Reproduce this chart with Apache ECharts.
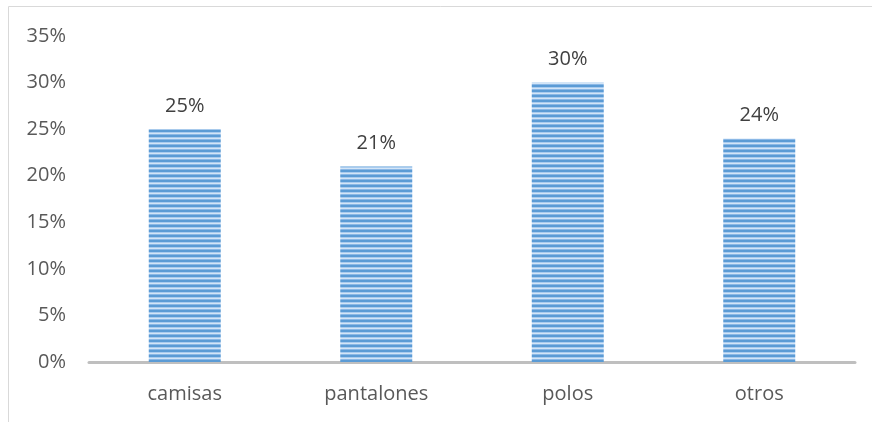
<!DOCTYPE html>
<html><head><meta charset="utf-8">
<script src="https://cdn.jsdelivr.net/npm/echarts@6/dist/echarts.min.js"></script>
<style>html,body{margin:0;padding:0;background:#fff}#c{width:872px;height:422px}</style>
</head><body><div id="c"></div>
<script>
var categories = ['camisas', 'pantalones', 'polos', 'otros'];
var values = [0.25, 0.21, 0.30, 0.24];
var yTicks = [0, 0.05, 0.10, 0.15, 0.20, 0.25, 0.30, 0.35];

var pc = document.createElement('canvas');
pc.width = 8; pc.height = 5;
var ctx = pc.getContext('2d');
ctx.fillStyle = '#5b9bd5'; ctx.fillRect(0, 0, 8, 5);
ctx.fillStyle = '#a8cbef'; ctx.fillRect(0, 2, 8, 1);
ctx.fillStyle = '#d3e5f7'; ctx.fillRect(0, 3, 8, 1);
ctx.fillStyle = '#8bb8e6'; ctx.fillRect(0, 4, 8, 1);

var chart = echarts.init(document.getElementById('c'));
var font = '"Open Sans", sans-serif';
chart.setOption({
  animation: false,
  graphic: [
    {type: 'line', shape: {x1: 8.5, y1: 6.5, x2: 872, y2: 6.5}, style: {stroke: '#d9d9d9', lineWidth: 1}},
    {type: 'line', shape: {x1: 8.5, y1: 6.5, x2: 8.5, y2: 422}, style: {stroke: '#d9d9d9', lineWidth: 1}}
  ],
  grid: {left: 89, right: 17, top: 36, bottom: 60},
  xAxis: {
    type: 'category', data: categories,
    axisLine: {lineStyle: {color: '#bfbfbf', width: 3}},
    axisTick: {show: false},
    axisLabel: {color: '#595959', fontSize: 20, fontFamily: font, margin: 22}
  },
  yAxis: {
    type: 'value', min: 0, max: 0.35, interval: 0.05,
    splitLine: {show: false},
    axisLine: {show: false}, axisTick: {show: false},
    axisLabel: {color: '#595959', fontSize: 20, fontFamily: font, margin: 23,
      formatter: function (v) { return Math.round(v * 100) + '%'; }}
  },
  series: [{
    type: 'bar', data: values, barWidth: 72,
    itemStyle: {color: {image: pc, repeat: 'repeat'}},
    label: {show: true, position: 'top', distance: 13, color: '#404040', fontSize: 20, fontFamily: font,
      formatter: function (p) { return Math.round(p.value * 100) + '%'; }}
  }]
});
</script></body></html>
